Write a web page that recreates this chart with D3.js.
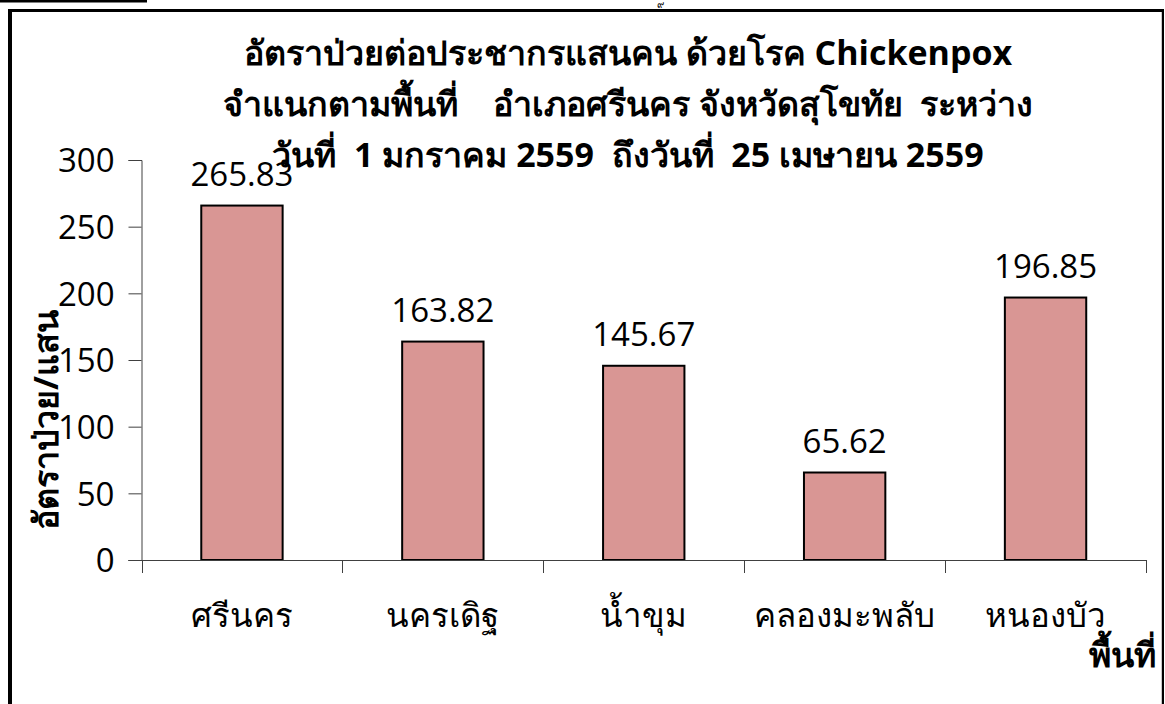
<!DOCTYPE html>
<html>
<head>
<meta charset="utf-8">
<style>
  body { margin: 0; background: #fff; }
  svg { display: block; }
  .tick text { font-family: "Open Sans", "Noto Sans", sans-serif; }
</style>
</head>
<body>
<script src="https://cdn.jsdelivr.net/npm/d3@7"></script>
<script>
// data
var areas = ["ศรีนคร", "นครเดิฐ", "น้ำขุม", "คลองมะพลับ", "หนองบัว"];
var rates = [265.83, 163.82, 145.67, 65.62, 196.85];
var yTicks = [0, 50, 100, 150, 200, 250, 300];
var titleLines = [
  "อัตราป่วยต่อประชากรแสนคน ด้วยโรค Chickenpox",
  "จำแนกตามพื้นที่    อำเภอศรีนคร จังหวัดสุโขทัย  ระหว่าง",
  "วันที่  1 มกราคม 2559  ถึงวันที่  25 เมษายน 2559"
];
var yTitle = "อัตราป่วย/แสน";
var xTitle = "พื้นที่";

var W = 1165, H = 704;
var fontStack = '"Open Sans", "Noto Sans", "DejaVu Sans", sans-serif';

var svg = d3.select("body").append("svg")
    .attr("width", W)
    .attr("height", H);

// page decoration: cut-off underline and page number at the very top
svg.append("line")
    .attr("x1", 0).attr("x2", 147)
    .attr("y1", 1).attr("y2", 1)
    .attr("stroke", "#000").attr("stroke-width", 3);
svg.append("text")
    .attr("x", 660).attr("y", 8)
    .attr("text-anchor", "middle")
    .attr("font-family", fontStack)
    .attr("font-size", 10)
    .text("๙");

// chart frame
svg.append("line").attr("x1", 8).attr("x2", 1164).attr("y1", 10.5).attr("y2", 10.5)
    .attr("stroke", "#000").attr("stroke-width", 3);
svg.append("line").attr("x1", 10).attr("x2", 10).attr("y1", 9).attr("y2", H)
    .attr("stroke", "#000").attr("stroke-width", 4);
svg.append("line").attr("x1", 1163).attr("x2", 1163).attr("y1", 9).attr("y2", H)
    .attr("stroke", "#000").attr("stroke-width", 2);
svg.append("line").attr("x1", 1161.5).attr("x2", 1161.5).attr("y1", 12).attr("y2", H)
    .attr("stroke", "#c8c8c8").attr("stroke-width", 1);

// scales
var plotLeft = 141.5, plotRight = 1146, plotTop = 160, plotBottom = 560;

var x = d3.scaleBand()
    .domain(areas)
    .range([plotLeft, plotRight])
    .padding(0);

var y = d3.scaleLinear()
    .domain([0, 300])
    .range([plotBottom, plotTop]);

var barW = x.bandwidth() * 0.405;

// bars
svg.append("g")
  .selectAll("rect")
  .data(rates)
  .enter().append("rect")
    .attr("x", function(d, i) { return x(areas[i]) + x.bandwidth() / 2 - barW / 2; })
    .attr("y", function(d) { return y(d); })
    .attr("width", barW)
    .attr("height", function(d) { return y(0) - y(d); })
    .attr("fill", "#D99694")
    .attr("stroke", "#000")
    .attr("stroke-width", 2);

// y axis
var yAxis = svg.append("g")
    .attr("transform", "translate(" + plotLeft + ",0)")
    .call(d3.axisLeft(y).tickValues(yTicks).tickSize(13).tickPadding(14));
yAxis.select(".domain").attr("stroke", "#404040");
yAxis.selectAll(".tick line").attr("stroke", "#404040");
yAxis.selectAll(".tick text")
    .attr("font-size", 33)
    .attr("fill", "#000")
    .attr("dy", "0.36em");

// x axis
var xAxis = svg.append("g")
    .attr("transform", "translate(0," + plotBottom + ")")
    .call(d3.axisBottom(x).tickSize(0).tickFormat(""));
xAxis.select(".domain")
    .attr("stroke", "#404040")
    .attr("d", "M" + (plotLeft - 13) + ",0.5H" + plotRight);
// category boundary ticks
svg.append("g")
  .selectAll("line")
  .data(areas.concat(["__end"]))
  .enter().append("line")
    .attr("x1", function(d, i) { return Math.round(plotLeft + i * x.step()) + 0.5; })
    .attr("x2", function(d, i) { return Math.round(plotLeft + i * x.step()) + 0.5; })
    .attr("y1", plotBottom)
    .attr("y2", plotBottom + 13)
    .attr("stroke", "#404040");

// category labels
svg.append("g")
  .selectAll("text")
  .data(areas)
  .enter().append("text")
    .attr("x", function(d) { return x(d) + x.bandwidth() / 2; })
    .attr("y", 627)
    .attr("text-anchor", "middle")
    .attr("font-family", fontStack)
    .attr("font-size", 33)
    .text(function(d) { return d; });

// value labels
svg.append("g")
  .selectAll("text")
  .data(rates)
  .enter().append("text")
    .attr("x", function(d, i) { return x(areas[i]) + x.bandwidth() / 2; })
    .attr("y", function(d) { return y(d) - 20; })
    .attr("text-anchor", "middle")
    .attr("font-family", fontStack)
    .attr("font-size", 33)
    .text(function(d) { return d.toFixed(2); });

// title
svg.append("g")
  .selectAll("text")
  .data(titleLines)
  .enter().append("text")
    .attr("x", 628)
    .attr("y", function(d, i) { return 65 + i * 51; })
    .attr("text-anchor", "middle")
    .attr("font-family", fontStack)
    .attr("font-weight", "bold")
    .attr("font-size", 34)
    .attr("xml:space", "preserve")
    .style("white-space", "pre")
    .text(function(d) { return d; });

// axis titles
svg.append("text")
    .attr("transform", "translate(58,420) rotate(-90)")
    .attr("text-anchor", "middle")
    .attr("font-family", fontStack)
    .attr("font-weight", "bold")
    .attr("font-size", 34)
    .text(yTitle);

svg.append("text")
    .attr("x", 1156)
    .attr("y", 667)
    .attr("text-anchor", "end")
    .attr("font-family", fontStack)
    .attr("font-weight", "bold")
    .attr("font-size", 34)
    .text(xTitle);
</script>
</body>
</html>
